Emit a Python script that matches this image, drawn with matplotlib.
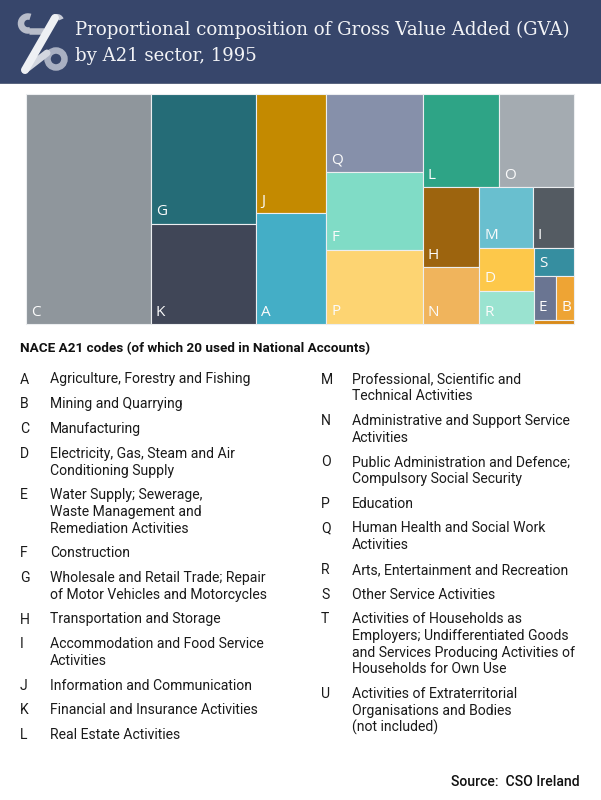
import matplotlib
matplotlib.use("Agg")
import matplotlib.pyplot as plt
from matplotlib.patches import Rectangle, Arc, Circle
from matplotlib.lines import Line2D

# ---------------- data ----------------
sector_codes = ["C", "G", "K", "J", "A", "Q", "F", "P", "L", "O",
                "H", "N", "M", "I", "D", "R", "S", "E", "B", "T"]
gva_share = [22.77, 10.87, 8.42, 6.61, 6.16, 5.97, 5.97, 5.67, 5.63, 5.55,
             3.57, 2.54, 2.56, 1.98, 1.87, 1.43, 0.90, 0.78, 0.62, 0.13]

legend_left_codes = ["A", "B", "C", "D", "E", "F", "G", "H", "I", "J", "K", "L"]
legend_left_names = [
    "Agriculture, Forestry and Fishing",
    "Mining and Quarrying",
    "Manufacturing",
    "Electricity, Gas, Steam and Air\nConditioning Supply",
    "Water Supply; Sewerage,\nWaste Management and\nRemediation Activities",
    "Construction",
    "Wholesale and Retail Trade; Repair\nof Motor Vehicles and Motorcycles",
    "Transportation and Storage",
    "Accommodation and Food Service\nActivities",
    "Information and Communication",
    "Financial and Insurance Activities",
    "Real Estate Activities",
]
legend_right_codes = ["M", "N", "O", "P", "Q", "R", "S", "T", "U"]
legend_right_names = [
    "Professional, Scientific and\nTechnical Activities",
    "Administrative and Support Service\nActivities",
    "Public Administration and Defence;\nCompulsory Social Security",
    "Education",
    "Human Health and Social Work\nActivities",
    "Arts, Entertainment and Recreation",
    "Other Service Activities",
    "Activities of Households as\nEmployers; Undifferentiated Goods\nand Services Producing Activities of\nHouseholds for Own Use",
    "Activities of Extraterritorial\nOrganisations and Bodies\n(not included)",
]

title_lines = ["Proportional composition of Gross Value Added (GVA)",
               "by A21 sector, 1995"]
legend_title = "NACE A21 codes (of which 20 used in National Accounts)"
source_text = "Source:  CSO Ireland"

# ---------------- styles ----------------
sector_colors = {
    "C": "#8f969c", "G": "#256c77", "K": "#404657", "J": "#c48a00",
    "A": "#44aec6", "Q": "#8690aa", "F": "#80dcc6", "P": "#fdd472",
    "L": "#2ea486", "O": "#a4abb1", "H": "#9d640e", "N": "#f0b45c",
    "M": "#69bfcf", "I": "#545b62", "D": "#fdc84a", "R": "#9ae3d0",
    "S": "#368ea0", "E": "#6a7592", "B": "#eea434", "T": "#d88a1a",
}
# number of consecutive cells in each strip of the (squarified-style) layout
strip_counts = [1, 2, 2, 3, 2, 2, 2, 2, 1, 2, 1]

W, H = 601, 800
fig = plt.figure(figsize=(W / 100, H / 100), dpi=100)
ax = fig.add_axes([0, 0, 1, 1])
ax.set_xlim(0, W)
ax.set_ylim(H, 0)
ax.axis("off")

PX = 0.72  # points per pixel at dpi 100

# ---------- header band ----------
ax.add_patch(Rectangle((0, 0), W, 83, facecolor="#37466b", edgecolor="none"))
ax.add_line(Line2D([0, W], [83, 83], color="#5a6680", lw=1 * PX))

# logo (approximation of the ribbon mark)
ax.add_patch(Circle((56, 59), 8.5, facecolor="none", edgecolor="#a9b0c2",
                    lw=6.5 * PX))
ax.add_line(Line2D([25, 47], [70, 53], color="#d3d7e0", lw=7 * PX,
                   solid_capstyle="round"))
ax.add_patch(Arc((28, 23.5), 14, 14, theta1=70, theta2=290, color="#b8bdca",
                 lw=6.5 * PX))
ax.add_line(Line2D([29, 44], [30.5, 30.5], color="#b8bdca", lw=6.5 * PX,
                   solid_capstyle="butt"))
ax.add_line(Line2D([55, 25], [18, 70], color="#eef0f4", lw=8 * PX,
                   solid_capstyle="round"))
ax.add_patch(Arc((57, 21), 9, 9, theta1=180, theta2=340, color="#c8ccd7",
                 lw=5 * PX))

for i, line in enumerate(title_lines):
    ax.text(75, 30 + 26 * i, line, family="DejaVu Serif", fontsize=13.1,
            color="#f2f3f6", va="center", ha="left")

# ---------- treemap ----------
TX, TY, TW, TH = 26, 94, 548, 230


def strip_layout(values, counts, x, y, w, h):
    total = sum(values)
    k = w * h / total
    rects = []
    i = 0
    for n in counts:
        group = values[i:i + n]
        s = sum(group) * k
        if w >= h:  # column along the left side
            cw = s / h
            yy = y
            for v in group:
                ch = v * k / cw
                rects.append((x, yy, cw, ch))
                yy += ch
            x += cw
            w -= cw
        else:  # row along the top side
            rh = s / w
            xx = x
            for v in group:
                cw = v * k / rh
                rects.append((xx, y, cw, rh))
                xx += cw
            y += rh
            h -= rh
        i += n
    return rects


rects = strip_layout(gva_share, strip_counts, TX, TY, TW, TH)
for code, (x, y, w, h) in zip(sector_codes, rects):
    ax.add_patch(Rectangle((x, y), w, h, facecolor=sector_colors[code],
                           edgecolor="#eceef0", lw=1.1 * PX))
    if h > 15 and w > 12:
        ax.text(x + 5, y + h - 12, code, family="Open Sans", fontsize=11,
                color="#fbfbfb", ha="left", va="center")

# ---------- legend ----------
ax.text(20, 349, legend_title, family="Roboto", fontweight="bold",
        fontsize=9.7, color="#111111", ha="left", va="center")

LINE_H = 16.6
GAP = 24.8


def draw_column(codes, names, x_code, x_name, y0):
    y = y0
    for c, n in zip(codes, names):
        lines = n.split("\n")
        ax.text(x_code, y, c, family="Roboto", fontsize=10.1, color="#1a1a1a",
                ha="left", va="center")
        for j, ln in enumerate(lines):
            ax.text(x_name, y + j * LINE_H, ln, family="Roboto", fontsize=10.1,
                    color="#1a1a1a", ha="left", va="center")
        y += GAP + (len(lines) - 1) * LINE_H


draw_column(legend_left_codes, legend_left_names, 20, 50, 379.5)
draw_column(legend_right_codes, legend_right_names, 321, 352, 379.5)

ax.text(580, 782, source_text, family="Roboto", fontweight="medium",
        fontsize=10.1, color="#111111", ha="right", va="center")

fig.savefig("out.png", dpi=100)
